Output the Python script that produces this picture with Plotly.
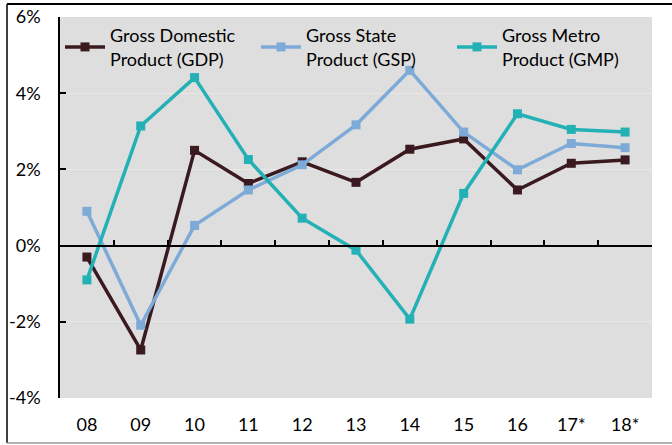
import plotly.graph_objects as go

categories = ["08", "09", "10", "11", "12", "13", "14", "15", "16", "17*", "18*"]
gdp = [-0.30, -2.74, 2.50, 1.63, 2.20, 1.66, 2.53, 2.80, 1.46, 2.16, 2.25]
gsp = [0.90, -2.09, 0.53, 1.46, 2.12, 3.17, 4.60, 2.98, 1.99, 2.68, 2.57]
gmp = [-0.90, 3.14, 4.41, 2.26, 0.72, -0.12, -1.93, 1.37, 3.46, 3.05, 2.98]
names = ["Gross Domestic<br>Product (GDP)", "Gross State<br>Product (GSP)", "Gross Metro<br>Product (GMP)"]
colors = ["#3a1a1f", "#7eaad8", "#24b1b6"]
y_ticks = [-4, -2, 0, 2, 4, 6]
y_labels = ["-4%", "-2%", "0%", "2%", "4%", "6%"]

FONT = "Lato, 'Open Sans', sans-serif"

fig = go.Figure()
for series, name, color in zip([gdp, gsp, gmp], names, colors):
    fig.add_trace(go.Scatter(
        x=categories, y=series, name=name, mode="lines+markers",
        line=dict(color=color, width=3.5),
        marker=dict(symbol="square", size=9, color=color),
    ))

# invisible trace to carry the zero-line category axis
fig.add_trace(go.Scatter(x=categories, y=gdp, xaxis="x2", mode="none",
                         showlegend=False, hoverinfo="skip"))

fig.update_layout(
    width=672, height=445,
    margin=dict(l=60, r=20, t=17, b=47),
    paper_bgcolor="white",
    plot_bgcolor="#dedede",
    font=dict(family=FONT, size=18, color="black"),
    showlegend=True,
    legend=dict(
        orientation="h", x=0, y=1.0, xanchor="left", yanchor="top",
        bgcolor="rgba(0,0,0,0)", font=dict(size=18, color="black"),
        entrywidth=141, entrywidthmode="pixels", itemwidth=40,
        tracegroupgap=0,
    ),
    xaxis=dict(
        type="category", categoryorder="array", categoryarray=categories,
        range=[-0.5, len(categories) - 0.5], automargin=False,
        showgrid=False, showline=False, zeroline=False, ticks="",
        tickfont=dict(size=18), ticklabelstandoff=14,
    ),
    xaxis2=dict(
        type="category", categoryorder="array", categoryarray=categories,
        range=[-0.5, len(categories) - 0.5], automargin=False,
        overlaying="x", anchor="free", position=0.4,
        showticklabels=False, showgrid=False, zeroline=False,
        showline=True, linecolor="black", linewidth=1.5,
        ticks="inside", tickson="boundaries", ticklen=5,
        tickcolor="black", tickwidth=1.5,
    ),
    yaxis=dict(
        range=[-4, 6], tickvals=y_ticks, ticktext=y_labels, automargin=False,
        showgrid=True, gridcolor="#e8e8e8", gridwidth=1,
        zeroline=False,
        showline=True, linecolor="black", linewidth=1.5,
        ticks="inside", ticklen=6, tickcolor="black", tickwidth=1.5,
        tickfont=dict(size=18), ticklabelstandoff=14,
    ),
    shapes=[
        dict(type="line", xref="paper", yref="paper", x0=-0.0895, x1=1.04, y0=1.034, y1=1.034,
             line=dict(color="black", width=2)),
        dict(type="line", xref="paper", yref="paper", x0=-0.0895, x1=-0.0895, y0=-0.118, y1=1.034,
             line=dict(color="black", width=1.5)),
        dict(type="line", xref="paper", yref="paper", x0=-0.0895, x1=1.04, y0=-0.118, y1=-0.118,
             line=dict(color="#999999", width=1.5)),
    ],
)

fig.write_html("out.html",
               config={"displayModeBar": False},
               post_script="document.body.style.margin='0';document.body.style.overflow='hidden';")
